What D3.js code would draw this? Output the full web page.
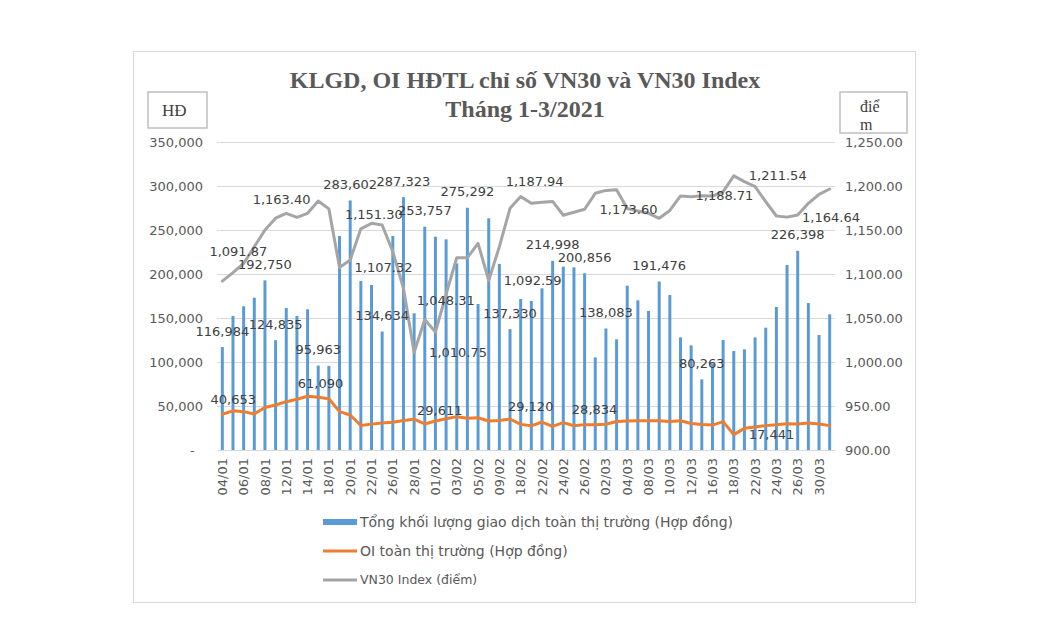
<!DOCTYPE html>
<html>
<head>
<meta charset="utf-8">
<script src="https://cdn.jsdelivr.net/npm/d3@7"></script>
<style>
  body { margin: 0; background: #fff; }
  svg { display: block; }
</style>
</head>
<body>
<svg id="chart"></svg>
<script>
// KLGD, OI HĐTL VN30 - combo chart (bars + 2 lines, dual axis)
const dates = [
    "04/01", "05/01", "06/01", "07/01", "08/01", "11/01", "12/01", "13/01", "14/01", "15/01",
    "18/01", "19/01", "20/01", "21/01", "22/01", "25/01", "26/01", "27/01", "28/01", "29/01",
    "01/02", "02/02", "03/02", "04/02", "05/02", "08/02", "09/02", "17/02", "18/02", "19/02",
    "22/02", "23/02", "24/02", "25/02", "26/02", "01/03", "02/03", "03/03", "04/03", "05/03",
    "08/03", "09/03", "10/03", "11/03", "12/03", "15/03", "16/03", "17/03", "18/03", "19/03",
    "22/03", "23/03", "24/03", "25/03", "26/03", "29/03", "30/03", "31/03"
];

// Tổng khối lượng giao dịch (hợp đồng)
const volume = [
    116984, 152300, 163300, 173100, 192750, 124835, 161400, 152300, 159900, 95963,
    95600, 243200, 283602, 192000, 187500, 134634, 243200, 287323, 155300, 253757,
    242400, 239400, 212100, 275292, 165900, 263300, 211400, 137330, 171600, 169300,
    183700, 214998, 208300, 207600, 200856, 105300, 138083, 125800, 186700, 170100,
    158000, 191476, 176100, 128000, 118900, 80263, 98000, 125000, 112500, 114400,
    128000, 139000, 162500, 210200, 226398, 167000, 130700, 154200
];

// OI toàn thị trường (hợp đồng)
const openInterest = [
    40653, 44500, 43600, 41000, 48300, 51100, 54900, 57600, 61090, 60000,
    58200, 43600, 39800, 27800, 29400, 30700, 31600, 33500, 35000, 29611,
    33000, 35600, 37900, 36200, 36600, 33000, 33400, 35200, 29120, 27500,
    31800, 26800, 31100, 27600, 28834, 28800, 29200, 32400, 33000, 33300,
    33300, 33300, 32300, 33200, 30200, 29000, 28300, 32200, 17441, 24600,
    26100, 27700, 28800, 29900, 29500, 30700, 29500, 27700
];

// VN30 Index (điểm)
const vn30 = [
    1091.87, 1101.5, 1112.0, 1131.0, 1150.0, 1163.40, 1169.0, 1164.4, 1169.0, 1183.0,
    1174.0, 1107.32, 1116.0, 1151.30, 1157.6, 1155.7, 1125.4, 1083.7, 1010.75, 1048.31,
    1034.0, 1077.0, 1118.5, 1118.5, 1134.8, 1092.59, 1131.0, 1174.6, 1187.94, 1180.5,
    1181.5, 1182.5, 1166.8, 1170.2, 1173.60, 1191.7, 1195.0, 1195.8, 1174.5, 1171.5,
    1169.0, 1163.3, 1172.2, 1188.71, 1187.9, 1188.8, 1188.6, 1193.6, 1211.54, 1204.9,
    1199.2, 1182.2, 1165.9, 1164.64, 1167.0, 1180.3, 1190.5, 1196.6
];

const leftTicks = [0, 50000, 100000, 150000, 200000, 250000, 300000, 350000];
const rightTicks = [900, 950, 1000, 1050, 1100, 1150, 1200, 1250];

const titleLines = ["KLGD, OI HĐTL chỉ số VN30 và VN30 Index", "Tháng 1-3/2021"];
const seriesNames = [
    "Tổng khối lượng giao dịch toàn thị trường (Hợp đồng)",
    "OI toàn thị trường (Hợp đồng)",
    "VN30 Index (điểm)"
];

// which points carry a data label
const volumeLabelDates = ["04/01", "08/01", "11/01", "15/01", "20/01", "25/01", "27/01", "29/01",
    "04/02", "17/02", "23/02", "26/02", "02/03", "09/03", "15/03", "26/03"];
const oiLabelDates = ["04/01", "14/01", "29/01", "18/02", "26/02", "18/03"];
const vnLabelDates = ["04/01", "11/01", "19/01", "21/01", "28/01", "29/01", "08/02", "18/02",
    "26/02", "11/03", "18/03", "25/03"];

// label placement (Excel moved some of them by hand)
const labelPlace = {
    oi: {
        "04/01": { pos: "above", dx: 11, dy: -15 },
        "14/01": { pos: "above", dx: 13, dy: -13 },
        "29/01": { pos: "above", dx: 15, dy: -13 },
        "18/02": { pos: "above", dx: 10, dy: -18 },
        "26/02": { pos: "above", dx: 10, dy: -15 },
        "18/03": { pos: "right" }
    },
    vn: {
        "04/01": { pos: "above", dx: 16, dy: -30 },
        "11/01": { pos: "above", dx: 6, dy: -19 },
        "19/01": { pos: "right" },
        "21/01": { pos: "above", dx: 13, dy: -14 },
        "28/01": { pos: "right" },
        "29/01": { pos: "above", dx: 21, dy: -19 },
        "08/02": { pos: "right" },
        "18/02": { pos: "above", dx: 14, dy: -15 },
        "26/02": { pos: "right" },
        "11/03": { pos: "right" },
        "18/03": { pos: "right" },
        "25/03": { pos: "right" }
    }
};

const width = 1050, height = 630;
const margin = { top: 142, right: 215, bottom: 180, left: 217 };
const plotRight = width - margin.right;
const plotBottom = height - margin.bottom;

const barColor = "#5b9bd5", oiColor = "#ed7d31", vnColor = "#a5a5a5";
const textColor = "#595959", labelColor = "#404040", gridColor = "#d9d9d9";
const sansFont = "'DejaVu Sans', sans-serif";
const serifFont = "'Liberation Serif', 'Times New Roman', serif";

const svg = d3.select("#chart")
    .attr("width", width)
    .attr("height", height)
    .style("font-family", sansFont);

svg.append("rect")
    .attr("width", width).attr("height", height)
    .attr("fill", "#fff");

svg.append("rect")
    .attr("x", 133.5).attr("y", 51.5)
    .attr("width", 782).attr("height", 551)
    .attr("fill", "none")
    .attr("stroke", gridColor)
    .attr("stroke-width", 1);

const x = d3.scaleBand()
    .domain(dates)
    .range([margin.left, plotRight])
    .paddingInner(0.72)
    .paddingOuter(0.36);
const cx = function (d) { return x(d) + x.bandwidth() / 2; };

const yL = d3.scaleLinear().domain([0, 350000]).range([plotBottom, margin.top]);
const yR = d3.scaleLinear().domain([900, 1250]).range([plotBottom, margin.top]);

// gridlines
svg.append("g")
    .selectAll("line")
    .data(leftTicks.slice(1))
    .enter()
    .append("line")
    .attr("x1", margin.left).attr("x2", plotRight)
    .attr("y1", function (d) { return Math.round(yL(d)) + 0.5; })
    .attr("y2", function (d) { return Math.round(yL(d)) + 0.5; })
    .attr("stroke", gridColor)
    .attr("stroke-width", 1);

// left axis
const leftAxis = d3.axisLeft(yL)
    .tickValues(leftTicks)
    .tickSize(0)
    .tickPadding(14)
    .tickFormat(function (d) { return d === 0 ? "-\u00a0\u00a0" : d3.format(",")(d); });

svg.append("g")
    .attr("transform", "translate(" + margin.left + ",0)")
    .call(leftAxis)
    .call(function (g) { g.select(".domain").remove(); })
    .call(function (g) {
        g.selectAll("text").attr("fill", textColor).attr("font-size", "13px").attr("font-family", sansFont);
    });

// right axis
const rightAxis = d3.axisRight(yR)
    .tickValues(rightTicks)
    .tickSize(0)
    .tickPadding(10)
    .tickFormat(d3.format(",.2f"));

svg.append("g")
    .attr("transform", "translate(" + plotRight + ",0)")
    .call(rightAxis)
    .call(function (g) { g.select(".domain").remove(); })
    .call(function (g) {
        g.selectAll("text").attr("fill", textColor).attr("font-size", "13px").attr("font-family", sansFont);
    });

// bars
svg.append("g")
    .selectAll("rect")
    .data(dates)
    .enter()
    .append("rect")
    .attr("x", function (d) { return x(d); })
    .attr("width", x.bandwidth())
    .attr("y", function (d, i) { return yL(volume[i]); })
    .attr("height", function (d, i) { return plotBottom - yL(volume[i]); })
    .attr("fill", barColor);

// x axis
const xAxis = d3.axisBottom(x)
    .tickValues(dates.filter(function (d, i) { return i % 2 === 0; }))
    .tickSize(0);

svg.append("g")
    .attr("transform", "translate(0," + plotBottom + ")")
    .call(xAxis)
    .call(function (g) {
        g.select(".domain").attr("stroke", gridColor).attr("stroke-width", 1.2);
    })
    .call(function (g) {
        g.selectAll("text")
            .attr("fill", textColor)
            .attr("font-size", "13px")
            .attr("font-family", sansFont)
            .attr("y", 0)
            .attr("x", -8)
            .attr("dy", "0.35em")
            .attr("transform", "rotate(-90)")
            .attr("text-anchor", "end");
    });

// lines
const oiLine = d3.line()
    .x(function (d) { return cx(d); })
    .y(function (d, i) { return yL(openInterest[i]); });

const vnLine = d3.line()
    .x(function (d) { return cx(d); })
    .y(function (d, i) { return yR(vn30[i]); });

svg.append("path")
    .datum(dates)
    .attr("d", oiLine)
    .attr("fill", "none")
    .attr("stroke", oiColor)
    .attr("stroke-width", 3)
    .attr("stroke-linejoin", "round")
    .attr("stroke-linecap", "round");

svg.append("path")
    .datum(dates)
    .attr("d", vnLine)
    .attr("fill", "none")
    .attr("stroke", vnColor)
    .attr("stroke-width", 3)
    .attr("stroke-linejoin", "round")
    .attr("stroke-linecap", "round");

// data labels
const labelGroup = svg.append("g")
    .attr("font-size", "13px")
    .attr("fill", labelColor);

labelGroup.selectAll(".bar-label")
    .data(volumeLabelDates)
    .enter()
    .append("text")
    .attr("class", "bar-label")
    .attr("x", function (d) { return cx(d); })
    .attr("y", function (d) { return yL(volume[dates.indexOf(d)]) - 16; })
    .attr("dy", "0.35em")
    .attr("text-anchor", "middle")
    .text(function (d) { return d3.format(",")(volume[dates.indexOf(d)]); });

const drawLineLabels = function (labelDates, values, scale, places, fmt, cls) {
    labelGroup.selectAll("." + cls)
        .data(labelDates)
        .enter()
        .append("text")
        .attr("class", cls)
        .each(function (d) {
            const p = places[d];
            const v = values[dates.indexOf(d)];
            const t = d3.select(this)
                .attr("dy", "0.35em")
                .text(fmt(v));
            if (p.pos === "right") {
                t.attr("x", cx(d) + 15).attr("y", scale(v)).attr("text-anchor", "start");
            } else {
                t.attr("x", cx(d) + p.dx).attr("y", scale(v) + p.dy).attr("text-anchor", "middle");
            }
        });
};

drawLineLabels(oiLabelDates, openInterest, yL, labelPlace.oi, d3.format(","), "oi-label");
drawLineLabels(vnLabelDates, vn30, yR, labelPlace.vn, d3.format(",.2f"), "vn-label");

// title
svg.append("g")
    .selectAll("text")
    .data(titleLines)
    .enter()
    .append("text")
    .attr("x", 525)
    .attr("y", function (d, i) { return 88 + i * 29; })
    .attr("text-anchor", "middle")
    .attr("font-family", serifFont)
    .attr("font-weight", "bold")
    .attr("font-size", "24px")
    .attr("fill", textColor)
    .text(function (d) { return d; });

// axis title boxes
const leftBox = svg.append("g").attr("transform", "translate(148,92)");
leftBox.append("rect")
    .attr("width", 59).attr("height", 36)
    .attr("fill", "#fff")
    .attr("stroke", "#bfbfbf")
    .attr("stroke-width", 1.5);
leftBox.append("text")
    .attr("x", 14).attr("y", 24)
    .attr("font-family", serifFont)
    .attr("font-size", "17px")
    .attr("fill", labelColor)
    .text("HĐ");

const rightBox = svg.append("g").attr("transform", "translate(840,92)");
rightBox.append("rect")
    .attr("width", 67).attr("height", 41)
    .attr("fill", "#fff")
    .attr("stroke", "#bfbfbf")
    .attr("stroke-width", 1.5);
rightBox.append("text")
    .attr("x", 20).attr("y", 20)
    .attr("font-family", serifFont)
    .attr("font-size", "16px")
    .attr("fill", labelColor)
    .text("điể");
rightBox.append("text")
    .attr("x", 20).attr("y", 38)
    .attr("font-family", serifFont)
    .attr("font-size", "16px")
    .attr("fill", labelColor)
    .text("m");

// legend
const legend = svg.append("g")
    .attr("transform", "translate(323,0)")
    .attr("fill", textColor);
const legendY = [522, 551, 580];
const legendColors = [barColor, oiColor, vnColor];
const legendFont = ["14px", "14px", "12.5px"];

seriesNames.forEach(function (name, i) {
    if (i === 0) {
        legend.append("rect")
            .attr("x", 0).attr("y", legendY[i] - 3)
            .attr("width", 34).attr("height", 6)
            .attr("fill", legendColors[i]);
    } else {
        legend.append("line")
            .attr("x1", 0).attr("x2", 34)
            .attr("y1", legendY[i]).attr("y2", legendY[i])
            .attr("stroke", legendColors[i])
            .attr("stroke-width", 3);
    }
    legend.append("text")
        .attr("x", 37)
        .attr("y", legendY[i])
        .attr("dy", "0.35em")
        .attr("font-size", legendFont[i])
        .text(name);
});
</script>
</body>
</html>
